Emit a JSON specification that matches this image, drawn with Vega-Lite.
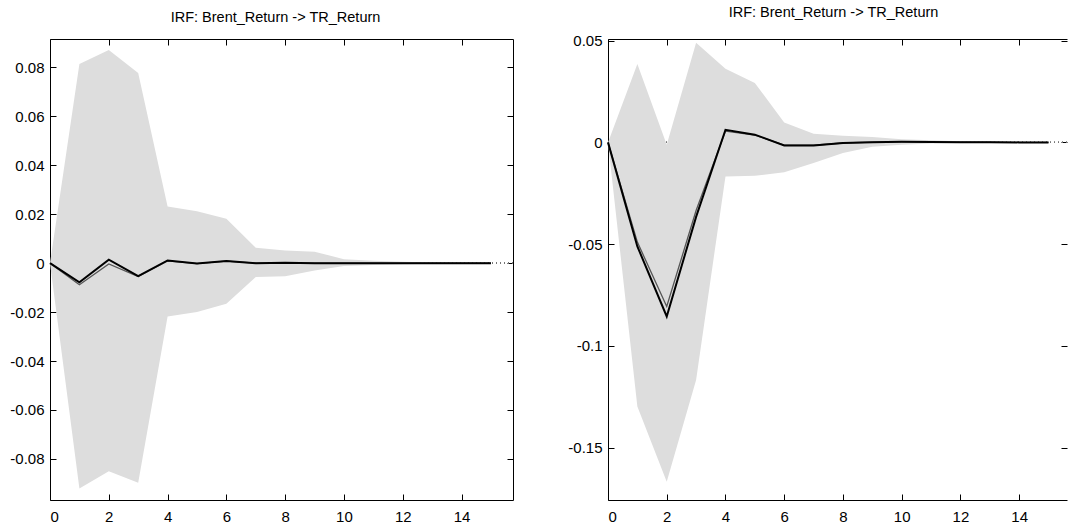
{
  "$schema": "https://vega.github.io/schema/vega-lite/v6.json",
  "background": "white",
  "padding": {"left": 0, "top": 5, "right": 0, "bottom": 0},
  "bounds": "flush",
  "spacing": 95,
  "config": {
    "view": {"stroke": null},
    "font": "Liberation Sans",
    "axis": {"grid": false, "domainColor": "#000", "tickColor": "#000", "labelColor": "#000", "labelFont": "Liberation Sans", "labelFontSize": 15, "tickSize": -6, "domainWidth": 1, "tickWidth": 1, "title": null}
  },
  "datasets": {
    "left": [
      {"h": 0, "lo": 0, "hi": 0, "irf": 0, "med": 0},
      {"h": 1, "lo": -0.0921, "hi": 0.0814, "irf": -0.0078, "med": -0.0088},
      {"h": 2, "lo": -0.085, "hi": 0.0871, "irf": 0.0014, "med": -0.0003},
      {"h": 3, "lo": -0.0898, "hi": 0.0777, "irf": -0.0053, "med": -0.0055},
      {"h": 4, "lo": -0.0218, "hi": 0.0231, "irf": 0.0011, "med": 0.0009},
      {"h": 5, "lo": -0.02, "hi": 0.0212, "irf": -0.0001, "med": -0.0002},
      {"h": 6, "lo": -0.0166, "hi": 0.0181, "irf": 0.0009, "med": 0.0008},
      {"h": 7, "lo": -0.0057, "hi": 0.0063, "irf": 0.0, "med": 0.0},
      {"h": 8, "lo": -0.0054, "hi": 0.0052, "irf": 0.0002, "med": 0.0001},
      {"h": 9, "lo": -0.003, "hi": 0.0047, "irf": 0.0, "med": 0.0},
      {"h": 10, "lo": -0.0012, "hi": 0.0016, "irf": 0.0, "med": 0.0},
      {"h": 11, "lo": -0.0008, "hi": 0.001, "irf": 0.0, "med": 0.0},
      {"h": 12, "lo": -0.0005, "hi": 0.0006, "irf": 0.0, "med": 0.0},
      {"h": 13, "lo": -0.0003, "hi": 0.0003, "irf": 0.0, "med": 0.0},
      {"h": 14, "lo": -0.0002, "hi": 0.0002, "irf": 0.0, "med": 0.0},
      {"h": 15, "lo": -0.0001, "hi": 0.0001, "irf": 0.0, "med": 0.0}
    ],
    "right": [
      {"h": 0, "lo": 0, "hi": 0, "irf": 0, "med": 0},
      {"h": 1, "lo": -0.1298, "hi": 0.0385, "irf": -0.0511, "med": -0.049},
      {"h": 2, "lo": -0.1667, "hi": -0.0011, "irf": -0.0855, "med": -0.0806},
      {"h": 3, "lo": -0.1167, "hi": 0.0489, "irf": -0.0366, "med": -0.0335},
      {"h": 4, "lo": -0.0167, "hi": 0.0362, "irf": 0.0062, "med": 0.0055},
      {"h": 5, "lo": -0.0164, "hi": 0.0292, "irf": 0.0038, "med": 0.0036},
      {"h": 6, "lo": -0.0147, "hi": 0.0098, "irf": -0.0015, "med": -0.0013},
      {"h": 7, "lo": -0.0101, "hi": 0.0043, "irf": -0.0015, "med": -0.0014},
      {"h": 8, "lo": -0.0052, "hi": 0.0033, "irf": -0.0003, "med": -0.0003},
      {"h": 9, "lo": -0.0022, "hi": 0.0026, "irf": 0.0001, "med": 0.0001},
      {"h": 10, "lo": -0.0011, "hi": 0.0016, "irf": 0.0003, "med": 0.0003},
      {"h": 11, "lo": -0.0006, "hi": 0.001, "irf": 0.0002, "med": 0.0002},
      {"h": 12, "lo": -0.0003, "hi": 0.0006, "irf": 0.0001, "med": 0.0001},
      {"h": 13, "lo": -0.0002, "hi": 0.0004, "irf": 0.0001, "med": 0.0001},
      {"h": 14, "lo": -0.0001, "hi": 0.0002, "irf": 0.0, "med": 0.0},
      {"h": 15, "lo": -0.0001, "hi": 0.0001, "irf": 0.0, "med": 0.0}
    ]
  },
  "hconcat": [
    {
      "width": 463,
      "height": 461,
      "title": {"text": "IRF: Brent_Return -> TR_Return", "fontSize": 14.5, "font": "Liberation Sans", "fontWeight": "normal", "color": "#000", "dx": -6, "offset": 13},
      "data": {"name": "left"},
      "resolve": {"axis": {"x": "independent", "y": "independent"}},
      "layer": [
        {
          "mark": {"type": "rule", "strokeDash": [1, 3], "color": "#777", "strokeWidth": 1},
          "encoding": {"y": {"datum": 0, "type": "quantitative", "scale": {"domain": [-0.0968, 0.0916], "nice": false, "zero": false}, "axis": {"orient": "left", "values": [-0.08, -0.06, -0.04, -0.02, 0, 0.02, 0.04, 0.06, 0.08], "labelPadding": 12, "minExtent": 50, "maxExtent": 50, "labelExpr": "datum.value < 0 ? '-' + format(-datum.value, '~g') : format(datum.value, '~g')"}}}
        },
        {
          "mark": {"type": "area", "color": "#dddddd", "opacity": 1},
          "encoding": {
            "x": {"field": "h", "type": "quantitative", "scale": {"domain": [0, 15.75], "nice": false, "zero": false}, "axis": {"orient": "bottom", "values": [0, 2, 4, 6, 8, 10, 12, 14], "labelPadding": 15, "format": "d"}},
            "y": {"field": "lo", "type": "quantitative", "axis": null},
            "y2": {"field": "hi"}
          }
        },
        {
          "mark": {"type": "line", "color": "#555", "strokeWidth": 1.3},
          "encoding": {
            "x": {"field": "h", "type": "quantitative", "axis": {"orient": "top", "values": [0, 2, 4, 6, 8, 10, 12, 14], "labels": false}},
            "y": {"field": "med", "type": "quantitative", "axis": {"orient": "right", "values": [-0.08, -0.06, -0.04, -0.02, 0, 0.02, 0.04, 0.06, 0.08], "labels": false}}
          }
        },
        {
          "mark": {"type": "line", "color": "#000", "strokeWidth": 2},
          "encoding": {
            "x": {"field": "h", "type": "quantitative", "axis": null},
            "y": {"field": "irf", "type": "quantitative", "axis": null}
          }
        }
      ]
    },
    {
      "width": 459,
      "height": 461,
      "title": {"text": "IRF: Brent_Return -> TR_Return", "fontSize": 14.5, "font": "Liberation Sans", "fontWeight": "normal", "color": "#000", "dx": -4, "offset": 13},
      "data": {"name": "right"},
      "resolve": {"axis": {"x": "independent", "y": "independent"}},
      "layer": [
        {
          "mark": {"type": "rule", "strokeDash": [1, 3], "color": "#777", "strokeWidth": 1},
          "encoding": {"y": {"datum": 0, "type": "quantitative", "scale": {"domain": [-0.1757, 0.0508], "nice": false, "zero": false}, "axis": {"orient": "left", "values": [-0.15, -0.1, -0.05, 0, 0.05], "labelPadding": 12, "labelExpr": "datum.value < 0 ? '-' + format(-datum.value, '~g') : format(datum.value, '~g')"}}}
        },
        {
          "mark": {"type": "area", "color": "#dddddd", "opacity": 1},
          "encoding": {
            "x": {"field": "h", "type": "quantitative", "scale": {"domain": [0, 15.63], "nice": false, "zero": false}, "axis": {"orient": "bottom", "values": [0, 2, 4, 6, 8, 10, 12, 14], "labelPadding": 15, "format": "d"}},
            "y": {"field": "lo", "type": "quantitative", "axis": null},
            "y2": {"field": "hi"}
          }
        },
        {
          "mark": {"type": "line", "color": "#555", "strokeWidth": 1.3},
          "encoding": {
            "x": {"field": "h", "type": "quantitative", "axis": {"orient": "top", "values": [0, 2, 4, 6, 8, 10, 12, 14], "labels": false}},
            "y": {"field": "med", "type": "quantitative", "axis": {"orient": "right", "values": [-0.15, -0.1, -0.05, 0, 0.05], "labels": false, "domain": false}}
          }
        },
        {
          "mark": {"type": "line", "color": "#000", "strokeWidth": 2},
          "encoding": {
            "x": {"field": "h", "type": "quantitative", "axis": null},
            "y": {"field": "irf", "type": "quantitative", "axis": null}
          }
        }
      ]
    }
  ]
}
